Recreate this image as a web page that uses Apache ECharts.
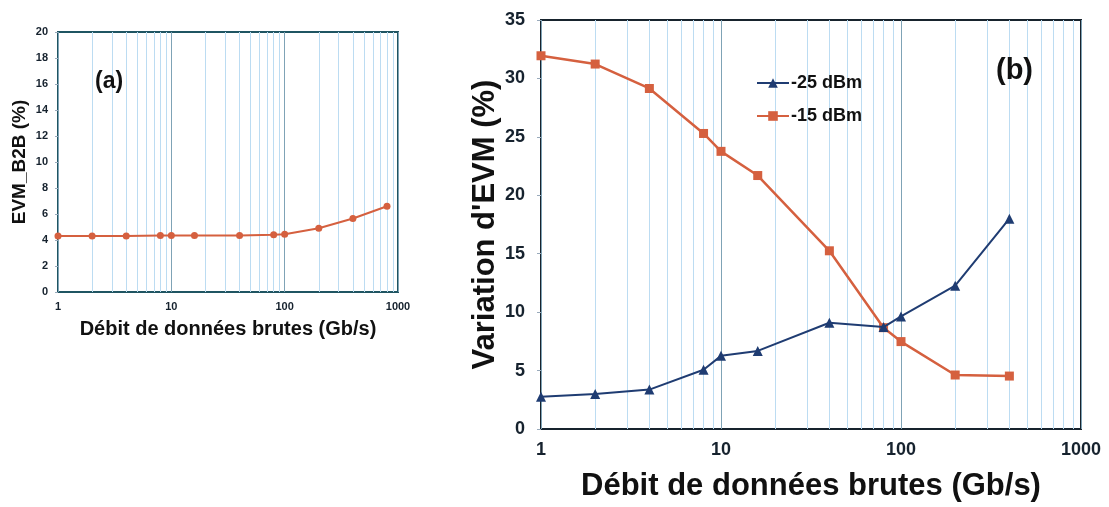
<!DOCTYPE html>
<html>
<head>
<meta charset="utf-8">
<script src="https://cdn.jsdelivr.net/npm/echarts@6/dist/echarts.min.js"></script>
<style>
  html, body { margin: 0; padding: 0; background: #fff; }
  #chart { width: 1109px; height: 507px; }
</style>
</head>
<body>
<div id="chart"></div>
<script>
// ---- Data ----
const xRateA = [1, 2, 4, 8, 10, 16, 40, 80, 100, 200, 400, 800];
const evmB2B = [4.3, 4.3, 4.3, 4.35, 4.35, 4.35, 4.35, 4.4, 4.45, 4.9, 5.65, 6.6];

const xRateB = [1, 2, 4, 8, 10, 16, 40, 80, 100, 200, 400];
const varEvm25 = [2.77, 3.0, 3.37, 5.07, 6.26, 6.68, 9.09, 8.72, 9.63, 12.26, 18.0];
const varEvm15 = [31.94, 31.23, 29.14, 25.29, 23.76, 21.69, 15.25, 8.67, 7.48, 4.62, 4.53];

const seriesNames = ['-25 dBm', '-15 dBm'];
const minorGridX = [2, 3, 4, 5, 6, 7, 8, 9, 20, 30, 40, 50, 60, 70, 80, 90, 200, 300, 400, 500, 600, 700, 800, 900];
const panelLabels = ['(a)', '(b)'];
const xTitle = 'Débit de données brutes (Gb/s)';
const yTitleA = 'EVM_B2B (%)';
const yTitleB = "Variation d'EVM (%)";

// ---- Styles ----
const FONT = "'Liberation Sans', Arial, sans-serif";
const ORANGE = '#d5603f';
const BLUE = '#1f3c72';
const MINOR = '#bcdcf2';
const MAJOR = '#7fa3b6';
const LABEL = '#16222e';

function pairs(xs, ys) { return xs.map((x, i) => [x, ys[i]]); }
function plainNum(v) { return String(Math.round(v)); }

function minorLines(xIdx) {
  return {
    type: 'line', xAxisIndex: xIdx, yAxisIndex: xIdx, data: [], silent: true, z: 1,
    markLine: {
      z: 1, zlevel: 0,
      silent: true, symbol: ['none', 'none'], animation: false,
      label: { show: false },
      emphasis: { disabled: true },
      lineStyle: { color: MINOR, width: 1, type: 'solid' },
      data: minorGridX.map(v => ({ xAxis: v }))
    }
  };
}

const chart = echarts.init(document.getElementById('chart'), null, { renderer: 'canvas' });

const option = {
  animation: false,
  backgroundColor: '#fff',
  textStyle: { fontFamily: FONT },
  grid: [
    { left: 58, top: 32, width: 340, height: 260, show: true, borderColor: '#1f5562', borderWidth: 2, backgroundColor: 'transparent' },
    { left: 541, top: 20, width: 540, height: 412, show: true, borderColor: '#17232d', borderWidth: 2, backgroundColor: 'transparent' }
  ],
  xAxis: [
    {
      type: 'log', logBase: 10, min: 1, max: 1000, gridIndex: 0,
      axisLine: { show: false }, axisTick: { show: false },
      splitLine: { show: true, lineStyle: { color: MAJOR, width: 1 } },
      minorTick: { show: false }, minorSplitLine: { show: false },
      axisLabel: { fontFamily: FONT, fontWeight: 'bold', fontSize: 11, color: LABEL, margin: 9, formatter: plainNum },
      name: xTitle, nameLocation: 'middle', nameGap: 27,
      nameTextStyle: { fontFamily: FONT, fontWeight: 'bold', fontSize: 20, color: '#111' }
    },
    {
      type: 'log', logBase: 10, min: 1, max: 1000, gridIndex: 1,
      axisLine: { show: false }, axisTick: { show: false },
      splitLine: { show: true, lineStyle: { color: MAJOR, width: 1 } },
      minorTick: { show: false }, minorSplitLine: { show: false },
      axisLabel: { fontFamily: FONT, fontWeight: 'bold', fontSize: 18, color: LABEL, margin: 12, formatter: plainNum },
      name: xTitle, nameLocation: 'middle', nameGap: 42,
      nameTextStyle: { fontFamily: FONT, fontWeight: 'bold', fontSize: 31, color: '#111' }
    }
  ],
  yAxis: [
    {
      type: 'value', min: 0, max: 20, interval: 2, gridIndex: 0,
      axisLine: { show: false },
      axisTick: { show: true, length: 3, lineStyle: { color: '#9ab' } },
      splitLine: { show: false },
      axisLabel: { fontFamily: FONT, fontWeight: 'bold', fontSize: 11, color: LABEL, margin: 10 },
      name: yTitleA, nameLocation: 'middle', nameGap: 29, nameRotate: 90,
      nameTextStyle: { fontFamily: FONT, fontWeight: 'bold', fontSize: 19, color: '#111' }
    },
    {
      type: 'value', min: 0, max: 35, interval: 5, gridIndex: 1,
      axisLine: { show: false },
      axisTick: { show: true, length: 4, lineStyle: { color: '#9ab' } },
      splitLine: { show: false },
      axisLabel: { fontFamily: FONT, fontWeight: 'bold', fontSize: 18, color: LABEL, margin: 16 },
      name: yTitleB, nameLocation: 'middle', nameGap: 39, nameRotate: 90,
      nameTextStyle: { fontFamily: FONT, fontWeight: 'bold', fontSize: 31, color: '#111' }
    }
  ],
  legend: {
    show: true,
    orient: 'vertical', left: 751, top: 69, itemGap: 15,
    itemWidth: 32, itemHeight: 12, align: 'left',
    data: seriesNames,
    textStyle: { fontFamily: FONT, fontWeight: 'bold', fontSize: 18, color: '#111', padding: [0, 0, 0, -3] }
  },
  graphic: [
    { type: 'text', left: 95, top: 70, z: 10, style: { text: panelLabels[0], fontFamily: FONT, fontWeight: 'bold', fontSize: 23, fill: '#111' } },
    { type: 'text', left: 996, top: 56, z: 10, style: { text: panelLabels[1], fontFamily: FONT, fontWeight: 'bold', fontSize: 29, fill: '#111' } }
  ],
  series: [
    minorLines(0),
    minorLines(1),
    {
      type: 'line', name: 'EVM_B2B', xAxisIndex: 0, yAxisIndex: 0, z: 3,
      data: pairs(xRateA, evmB2B),
      symbol: 'circle', symbolSize: 7,
      lineStyle: { color: ORANGE, width: 2 }, itemStyle: { color: ORANGE }
    },
    {
      type: 'line', name: seriesNames[0], xAxisIndex: 1, yAxisIndex: 1, z: 4,
      data: pairs(xRateB, varEvm25),
      symbol: 'triangle', symbolSize: 10,
      lineStyle: { color: BLUE, width: 2 }, itemStyle: { color: BLUE }
    },
    {
      type: 'line', name: seriesNames[1], xAxisIndex: 1, yAxisIndex: 1, z: 3,
      data: pairs(xRateB, varEvm15),
      symbol: 'rect', symbolSize: 9,
      lineStyle: { color: ORANGE, width: 2.5 }, itemStyle: { color: ORANGE }
    }
  ]
};

chart.setOption(option);
</script>
</body>
</html>
